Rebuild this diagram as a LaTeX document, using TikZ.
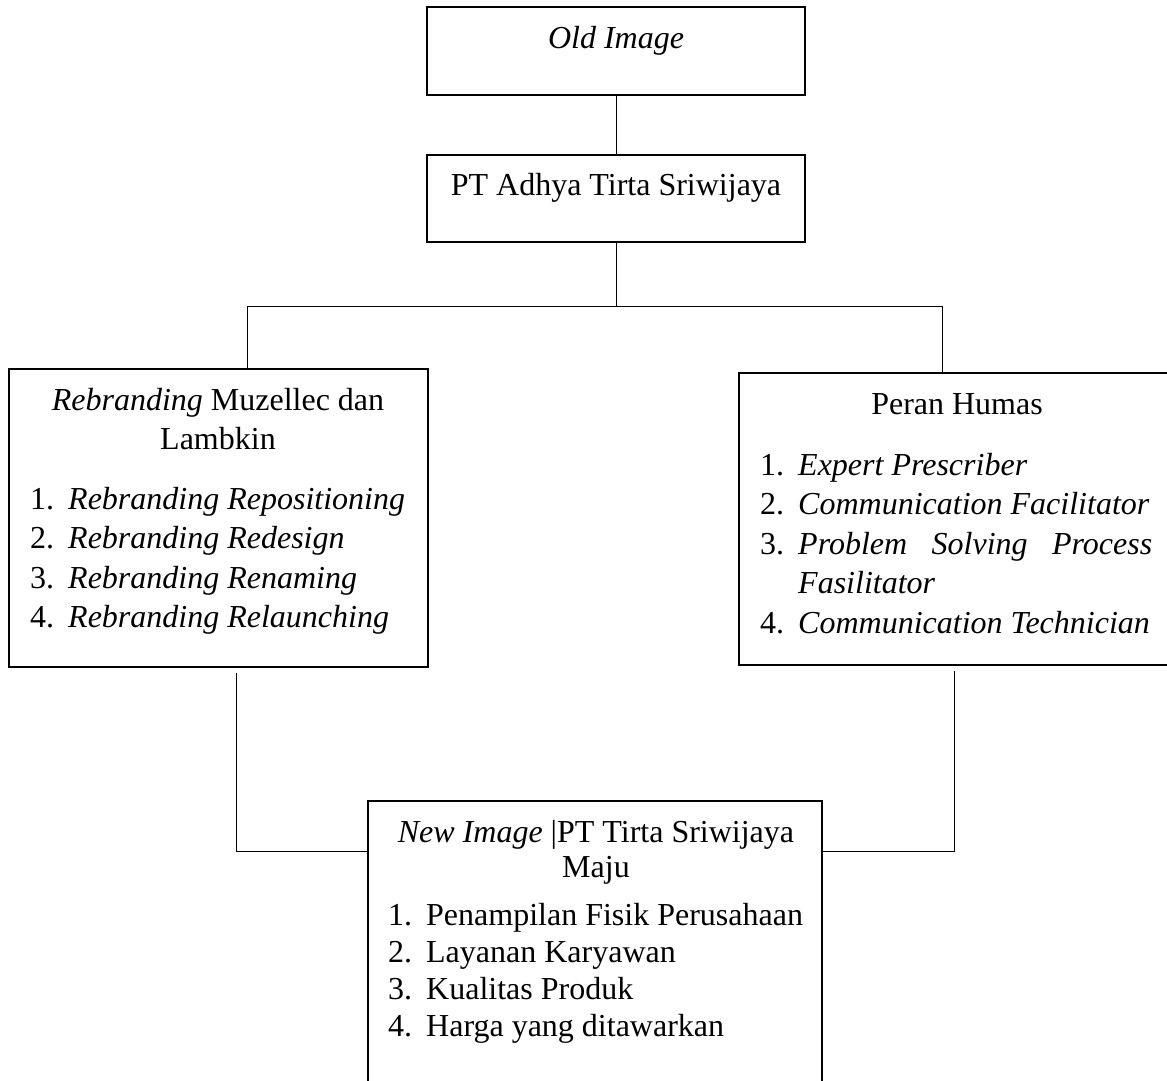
\documentclass[tikz,border=0pt]{standalone}
\usepackage{fontspec}
\setmainfont{Liberation Serif}
\usetikzlibrary{calc}

\newcommand{\itm}[2]{\makebox[38pt][l]{#1}#2}

\begin{document}
\begin{tikzpicture}[
		x=1pt, y=-1pt,
		font=\fontsize{32}{39.5}\selectfont,
		box/.style={draw, line width=1.6pt, inner sep=0pt},
		conn/.style={line width=1pt},
		txt/.style={anchor=base, inner sep=0pt},
		lst/.style={anchor=base west, inner sep=0pt}
		]
		
		% Frame
		\useasboundingbox (0,0) rectangle (1167,1080);
		
		% Boxes
		\node[box, minimum width=378pt, minimum height=88pt] (old) at (616,51) {};
		\node[box, minimum width=378pt, minimum height=87pt] (pt) at (616,198.5) {};
		\node[box, minimum width=419pt, minimum height=298pt] (rb) at (218.5,518) {};
		\node[box, minimum width=430pt, minimum height=292pt] (humas) at (954,519) {};
		\node[box, minimum width=454pt, minimum height=282pt] (newimg) at (595,942) {};
		
		% Titles
		\node[txt] (toldimg) at (616,48) {\textit{Old Image}};
		\node[txt] (tpt) at (616,195) {PT Adhya Tirta Sriwijaya};
		\node[txt] (trb) at (218,410) {\begin{tabular}[t]{@{}c@{}}
				\textit{Rebranding} Muzellec dan\\ Lambkin
			\end{tabular}};
		\node[txt] (thumas) at (957,414) {Peran Humas};
		\node[txt, font=\fontsize{32}{35}\selectfont] (tnewimg) at (596,842) {\begin{tabular}[t]{@{}c@{}}
				\textit{New Image} |PT Tirta Sriwijaya\\ Maju
			\end{tabular}};
		
		% Lists
		\node[lst] (lrb) at (30,509) {\begin{tabular}[t]{@{}l@{}}
				\itm{1.}{\textit{Rebranding Repositioning}}\\
				\itm{2.}{\textit{Rebranding Redesign}}\\
				\itm{3.}{\textit{Rebranding Renaming}}\\
				\itm{4.}{\textit{Rebranding Relaunching}}
			\end{tabular}};
		\node[lst] (lhumas) at (760,475) {\begin{tabular}[t]{@{}l@{}}
				\itm{1.}{\textit{Expert Prescriber}}\\
				\itm{2.}{\textit{Communication Facilitator}}\\
				\itm{3.}{\makebox[354pt][s]{\textit{Problem Solving Process}}}\\
				\hspace*{38pt}\textit{Fasilitator}\\
				\itm{4.}{\textit{Communication Technician}}
			\end{tabular}};
		\node[lst, font=\fontsize{32}{37}\selectfont] (lnewimg) at (388,925) {\begin{tabular}[t]{@{}l@{}}
				\itm{1.}{Penampilan Fisik Perusahaan}\\
				\itm{2.}{Layanan Karyawan}\\
				\itm{3.}{Kualitas Produk}\\
				\itm{4.}{Harga yang ditawarkan}
			\end{tabular}};
		
		% Connectors top
		\coordinate (split) at (616,306);
		\coordinate (jl) at (247,306);
		\coordinate (jr) at (942,306);
		\draw[conn] (old.south) -- (pt.north);
		\draw[conn] (pt.south) -- (split);
		\draw[conn] (jl) -- (jr);
		\draw[conn] (jl) -- (jl |- rb.north);
		\draw[conn] (jr) -- (jr |- humas.north);
		
		% Connectors bottom
		\coordinate (bl) at (236,851);
		\coordinate (br) at (954,851);
		\draw[conn] ([yshift=-5pt]rb.south -| bl) -- (bl) -- (bl -| newimg.west);
		\draw[conn] ([yshift=-5pt]humas.south -| br) -- (br) -- (br -| newimg.east);
		
	\end{tikzpicture}
\end{document}
